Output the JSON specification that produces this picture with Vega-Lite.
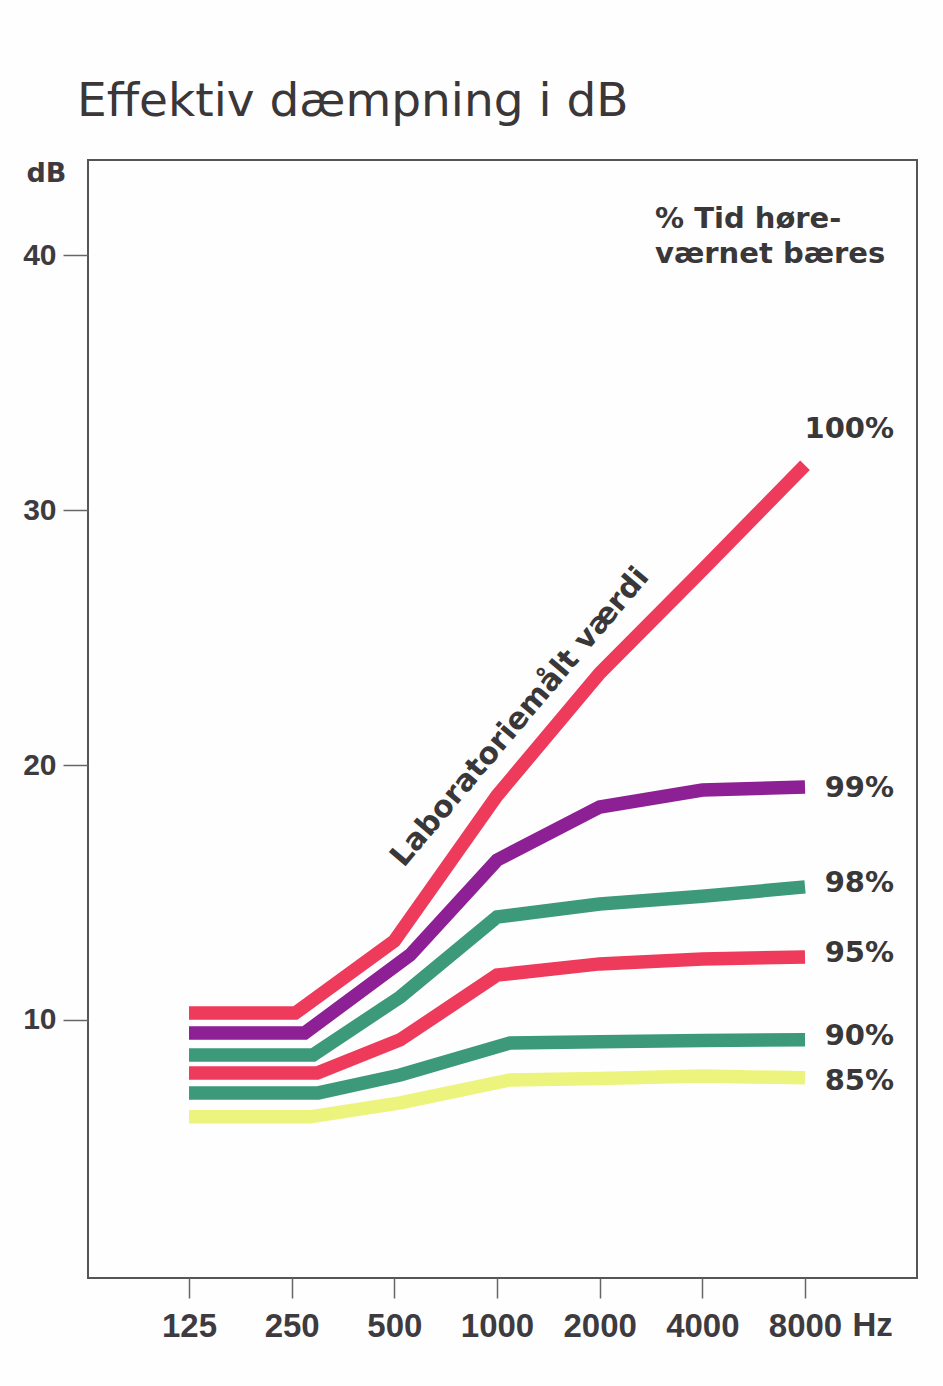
{
  "$schema": "https://vega.github.io/schema/vega-lite/v6.json",
  "autosize": {"type": "none"},
  "width": 829,
  "height": 1118,
  "padding": {"left": 88, "top": 160, "right": 26, "bottom": 108},
  "background": "#fefefe",
  "title": {
    "text": "Effektiv dæmpning i dB",
    "anchor": "start",
    "frame": "group",
    "baseline": "alphabetic",
    "offset": 42,
    "dx": -11,
    "dy": 46,
    "font": "DejaVu Sans",
    "fontSize": 47,
    "fontWeight": "normal",
    "color": "#3b3638"
  },
  "config": {
    "view": {"stroke": "#555555", "strokeWidth": 2}
  },
  "datasets": {
    "lines": [
      {"series": "100%", "hz": 125, "db": 10.27},
      {"series": "100%", "hz": 256, "db": 10.27},
      {"series": "100%", "hz": 500, "db": 13.1},
      {"series": "100%", "hz": 1000, "db": 18.8},
      {"series": "100%", "hz": 2000, "db": 23.6},
      {"series": "100%", "hz": 4000, "db": 27.65},
      {"series": "100%", "hz": 8000, "db": 31.76},
      {"series": "99%", "hz": 125, "db": 9.49},
      {"series": "99%", "hz": 273, "db": 9.49},
      {"series": "99%", "hz": 556, "db": 12.55},
      {"series": "99%", "hz": 1000, "db": 16.27},
      {"series": "99%", "hz": 2000, "db": 18.35},
      {"series": "99%", "hz": 4000, "db": 19.02},
      {"series": "99%", "hz": 8000, "db": 19.14},
      {"series": "98%", "hz": 125, "db": 8.63},
      {"series": "98%", "hz": 289, "db": 8.63},
      {"series": "98%", "hz": 520, "db": 10.9},
      {"series": "98%", "hz": 1000, "db": 14.04},
      {"series": "98%", "hz": 2000, "db": 14.55},
      {"series": "98%", "hz": 4000, "db": 14.85},
      {"series": "98%", "hz": 8000, "db": 15.22},
      {"series": "95%", "hz": 125, "db": 7.92},
      {"series": "95%", "hz": 297, "db": 7.92},
      {"series": "95%", "hz": 520, "db": 9.22},
      {"series": "95%", "hz": 1000, "db": 11.76},
      {"series": "95%", "hz": 2000, "db": 12.2},
      {"series": "95%", "hz": 4000, "db": 12.39},
      {"series": "95%", "hz": 8000, "db": 12.47},
      {"series": "90%", "hz": 125, "db": 7.14},
      {"series": "90%", "hz": 299, "db": 7.14},
      {"series": "90%", "hz": 520, "db": 7.84},
      {"series": "90%", "hz": 1092, "db": 9.1},
      {"series": "90%", "hz": 2000, "db": 9.15},
      {"series": "90%", "hz": 4000, "db": 9.2},
      {"series": "90%", "hz": 8000, "db": 9.22},
      {"series": "85%", "hz": 125, "db": 6.2},
      {"series": "85%", "hz": 283, "db": 6.2},
      {"series": "85%", "hz": 520, "db": 6.75},
      {"series": "85%", "hz": 1092, "db": 7.65},
      {"series": "85%", "hz": 2000, "db": 7.7},
      {"series": "85%", "hz": 4000, "db": 7.8},
      {"series": "85%", "hz": 8000, "db": 7.73}
    ],
    "notes": [
      {"kind": "end", "text": "100%", "hz": 14600, "db": 32.82},
      {"kind": "end", "text": "99%", "hz": 14600, "db": 18.75},
      {"kind": "end", "text": "98%", "hz": 14600, "db": 15.02},
      {"kind": "end", "text": "95%", "hz": 14600, "db": 12.27},
      {"kind": "end", "text": "90%", "hz": 14600, "db": 9.02},
      {"kind": "end", "text": "85%", "hz": 14600, "db": 7.25},
      {"kind": "head", "text": "% Tid høre-", "hz": 2906, "db": 41.06},
      {"kind": "head", "text": "værnet bæres", "hz": 2906, "db": 39.69},
      {"kind": "diag", "text": "Laboratoriemålt værdi", "hz": 1168, "db": 21.88}
    ]
  },
  "encoding": {
    "x": {
      "field": "hz",
      "type": "quantitative",
      "scale": {"type": "log", "base": 2, "domain": [63.2, 17040], "nice": false},
      "axis": {
        "values": [125, 250, 500, 1000, 2000, 4000, 8000],
        "format": "d",
        "grid": false,
        "domain": false,
        "tickSize": 20,
        "tickWidth": 1.5,
        "tickColor": "#666666",
        "labelFont": "Liberation Sans",
        "labelFontWeight": "bold",
        "labelFontSize": 33,
        "labelColor": "#3e3b40",
        "labelPadding": 12,
        "title": "Hz",
        "titleFont": "Liberation Sans",
        "titleFontWeight": "bold",
        "titleFontSize": 33,
        "titleColor": "#3e3b40",
        "titleX": 764,
        "titleY": 57,
        "titleAlign": "left",
        "titleBaseline": "alphabetic"
      }
    },
    "y": {
      "field": "db",
      "type": "quantitative",
      "scale": {"domain": [-0.12, 43.73], "nice": false, "zero": false},
      "axis": {
        "values": [10, 20, 30, 40],
        "grid": false,
        "domain": false,
        "tickSize": 25,
        "tickWidth": 1.5,
        "tickColor": "#666666",
        "labelFont": "Liberation Sans",
        "labelFontWeight": "bold",
        "labelFontSize": 30,
        "labelColor": "#3e3b40",
        "labelPadding": 7,
        "title": "dB",
        "titleAngle": 0,
        "titleFont": "DejaVu Sans",
        "titleFontWeight": "bold",
        "titleFontSize": 27,
        "titleColor": "#3e3b40",
        "titleX": -62,
        "titleY": 21,
        "titleAlign": "left",
        "titleBaseline": "alphabetic"
      }
    }
  },
  "layer": [
    {
      "data": {"name": "lines"},
      "mark": {"type": "line", "strokeWidth": 13.5, "strokeCap": "butt", "strokeJoin": "miter"},
      "encoding": {
        "color": {
          "field": "series",
          "type": "nominal",
          "legend": null,
          "scale": {
            "domain": ["100%", "99%", "98%", "95%", "90%", "85%"],
            "range": ["#ee3a5b", "#8d2094", "#3c9a7b", "#ee3a5b", "#3c9a7b", "#ecf47e"]
          }
        }
      }
    },
    {
      "data": {"name": "notes"},
      "transform": [{"filter": "datum.kind == 'end'"}],
      "mark": {"type": "text", "align": "right", "baseline": "alphabetic", "font": "DejaVu Sans", "fontWeight": "bold", "fontSize": 29, "color": "#3a3739"},
      "encoding": {"text": {"field": "text"}}
    },
    {
      "data": {"name": "notes"},
      "transform": [{"filter": "datum.kind == 'head'"}],
      "mark": {"type": "text", "align": "left", "baseline": "alphabetic", "font": "DejaVu Sans", "fontWeight": "bold", "fontSize": 29, "color": "#3a3739"},
      "encoding": {"text": {"field": "text"}}
    },
    {
      "data": {"name": "notes"},
      "transform": [{"filter": "datum.kind == 'diag'"}],
      "mark": {"type": "text", "align": "center", "baseline": "middle", "angle": -49.7, "font": "DejaVu Sans", "fontWeight": "bold", "fontSize": 30, "color": "#3a3739"},
      "encoding": {"text": {"field": "text"}}
    }
  ]
}
